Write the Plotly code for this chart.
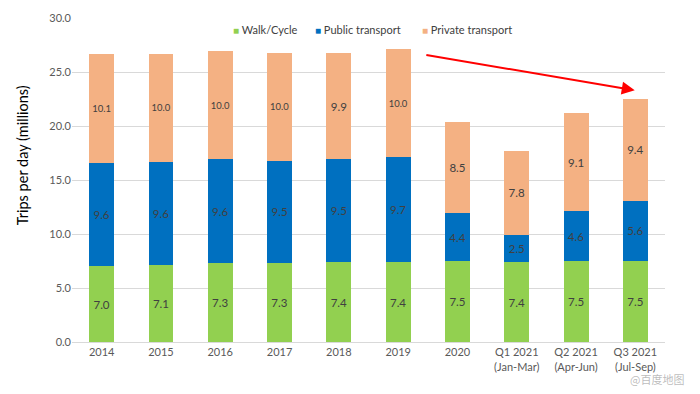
import plotly.graph_objects as go

categories = ["2014", "2015", "2016", "2017", "2018", "2019", "2020",
              "Q1 2021<br>(Jan-Mar)", "Q2 2021<br>(Apr-Jun)", "Q3 2021<br>(Jul-Sep)"]
walk_cycle = [7.0, 7.1, 7.3, 7.3, 7.4, 7.4, 7.5, 7.4, 7.5, 7.5]
public_transport = [9.6, 9.6, 9.6, 9.5, 9.5, 9.7, 4.4, 2.5, 4.6, 5.6]
private_transport = [10.1, 10.0, 10.0, 10.0, 9.9, 10.0, 8.5, 7.8, 9.1, 9.4]
series_names = ["Walk/Cycle", "Public transport", "Private transport"]
series_colors = ["#92d050", "#0070c0", "#f4b183"]

FONT = "Lato, 'Open Sans', sans-serif"
x_idx = list(range(len(categories)))

fig = go.Figure()
for name, vals, color in zip(series_names, [walk_cycle, public_transport, private_transport], series_colors):
    fig.add_trace(go.Bar(
        x=x_idx, y=vals, name=name, marker=dict(color=color, line=dict(width=0)),
        text=[f"{v:.1f}" for v in vals], textposition="inside", insidetextanchor="middle",
        textfont=dict(color="#404040", size=11.5, family=FONT), textangle=0, showlegend=False,
    ))

# legend drawn as text entries with coloured squares
legend_x = [0.268, 0.406, 0.587]
for lx, name, color in zip(legend_x, series_names, series_colors):
    fig.add_annotation(x=lx, y=0.963, xref="paper", yref="paper", xanchor="left", yanchor="middle",
                       showarrow=False,
                       text=f'<span style="color:{color}; font-size:10px">■</span> {name}',
                       font=dict(size=11, color="#404040", family=FONT))

# y axis title
fig.add_annotation(x=-0.084, y=0.577, xref="paper", yref="paper", textangle=-90, showarrow=False,
                   text="Trips per day (millions)", xanchor="center", yanchor="middle",
                   font=dict(size=14.5, color="#000000", family=FONT))

fig.add_annotation(x=8.99, y=23.3, ax=5.45, ay=26.6, xref="x", yref="y", axref="x", ayref="y",
                   showarrow=True, arrowhead=2, arrowsize=1.3, arrowwidth=2, arrowcolor="#ff0000", text="")

fig.add_annotation(x=1.036, y=-0.114, xref="paper", yref="paper", text="@百度地图", showarrow=False,
                   font=dict(size=11, color="rgba(120,120,120,0.5)", family="Noto Sans CJK SC"),
                   xanchor="right", yanchor="middle")

fig.update_layout(
    barmode="stack", bargap=0.58,
    width=692, height=378,
    margin=dict(l=64, r=35, t=10, b=44, autoexpand=False),
    plot_bgcolor="white", paper_bgcolor="white",
    font=dict(family=FONT, color="#595959", size=11),
    showlegend=False,
    xaxis=dict(tickmode="array", tickvals=x_idx, ticktext=categories, automargin=False,
               range=[-0.5, len(categories) - 0.5], showline=True, linecolor="#d9d9d9",
               showgrid=False, ticks="", tickfont=dict(size=11, color="#595959")),
    yaxis=dict(range=[0, 30], dtick=5, tickformat=".1f", showgrid=True, gridcolor="#d9d9d9",
               zeroline=False, showline=False, ticks="", automargin=False,
               tickfont=dict(size=11, color="#595959")),
)

fig.write_html("out.html")
